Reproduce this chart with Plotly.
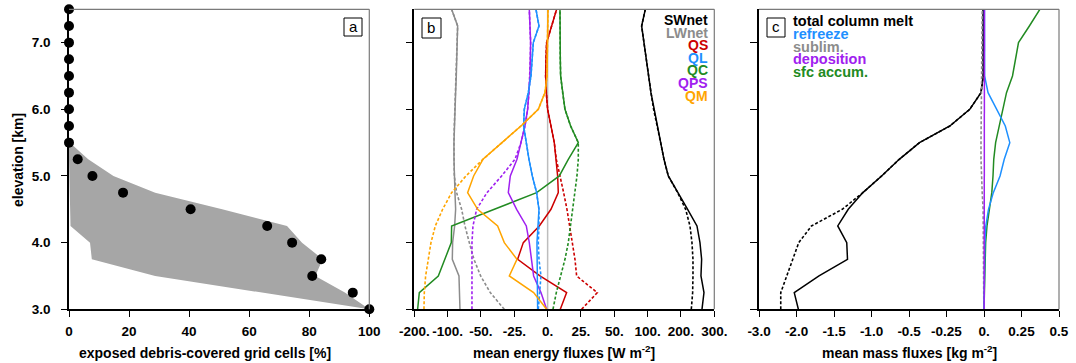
import numpy as np
import plotly.graph_objects as go

W, H = 1076, 363

# ---------------- data ----------------
elev = [3.0, 3.25, 3.5, 3.75, 4.0, 4.25, 4.5, 4.75, 5.0, 5.25, 5.5,
        5.75, 6.0, 6.25, 6.5, 6.75, 7.0, 7.25, 7.5]

# panel a
debris_pct = [100, 94.5, 81, 84, 74.3, 66, 40.5, 18, 7.8, 2.9, 0,
              0, 0, 0, 0, 0, 0, 0, 0]
band_elev = [3.0, 3.25, 3.5, 3.75, 4.0, 4.25, 4.5, 4.75, 5.0, 5.25, 5.5]
band_max = [100, 92, 82, 84.5, 77.6, 72.6, 51, 28.7, 14.8, 6.4, 0.3]
band_min = [100, 64, 28.7, 7.6, 7.0, 0.5, 0.3, 0.2, 0.1, 0, 0]
a_xticks = [0, 20, 40, 60, 80, 100]
a_yticks = [3.0, 4.0, 5.0, 6.0, 7.0]
a_ytext = ["3.0", "4.0", "5.0", "6.0", "7.0"]

# panel b (W m-2)
eb_ticks = [-200, -100, -50, -25, 0, 25, 50, 100, 200, 300]
eb_text = ["-200.", "-100.", "-50.", "-25.", "0.", "25.", "50.", "100.", "200.", "300."]
sw_solid = [263, 269, 260, 262, 257, 248, 220, 190, 162, 149, 139, 128, 118, 110, 103, 98, 95, 91, 96.5]
sw_dash = [231, 235, 236, 236, 233, 227, 214, 190, 162, 149, 139, 128, 118, 110, 103, 98, 95, 91, 96.5]
lw_solid = [-81.5, -82.5, -83, -93, -92.5, -89.5, -88, -89, -90, -90.5, -90.5, -90, -89, -88, -87, -86, -85.5, -85, -94]
lw_dash = [-32.5, -43, -50.5, -60.5, -67.5, -74, -79, -86.5, -90, -90.5, -90.5, -90, -89, -88, -87, -86, -85.5, -85, -94]
qs_solid = [9.5, 14.25, -5.75, -22.5, -18.25, -6.25, 2.5, 8, 7.5, 6.5, 5, 2.5, 0, -1, -1.5, -1.25, -0.75, 3, 6.75]
qs_dash = [25.5, 37.25, 21.75, 20.5, 18.5, 16.75, 14.5, 12, 9.5, 6.5, 5, 2.5, 0, -1, -1.5, -1.25, -0.75, 3, 6.75]
ql_solid = [-7.5, -7.5, -7.75, -8, -8, -7.25, -6.5, -8.25, -11.5, -14, -16, -18, -17.5, -14.5, -12.5, -11.5, -10.75, -6.5, -8.75]
ql_dash = [-7, -5.75, -5, -6.5, -7, -6.5, -6.5, -8.25, -11.5, -14, -16, -18, -17.5, -14.5, -12.5, -11.5, -10.75, -6.5, -8.75]
qc_solid = [-190, -185, -128, -109, -94.5, -94, -40.5, -8.25, 8.75, 15.5, 23, 17.25, 13, 11.25, 9.75, 9.5, 9.25, 9.25, 9.25]
qc_dash = [4, 6.5, 9.75, 13, 15.5, 17.25, 18.75, 20.5, 22, 23, 23, 17.25, 13, 11.25, 9.75, 9.5, 9.25, 9.25, 9.25]
qps_solid = [-0.75, -5, -10.5, -12, -13.75, -16, -23.25, -29.5, -28, -23, -20, -17, -15, -14, -13.25, -13, -12.75, -13.25, -13.75]
qps_dash = [-63.5, -63.5, -64, -64, -63.5, -62, -56.5, -45.5, -34.5, -24.5, -20, -17, -15, -14, -13.25, -13, -12.75, -13.25, -13.75]
qm_solid = [-0.75, -10.5, -28.75, -23, -32.5, -37.5, -55, -70, -61, -48.5, -34.25, -20, -7, -2, -0.5, -0.25, 0, 0, 0.25]
qm_dash = [-171, -170, -166, -159, -150, -137, -115, -94, -72.5, -48.5, -34.25, -20, -7, -2, -0.5, -0.25, 0, 0, 0.25]

# panel c (kg m-2)
mf_ticks = [-3.0, -2.0, -1.5, -1.0, -0.5, -0.25, 0.0, 0.25, 0.5]
mf_text = ["-3.0", "-2.0", "-1.5", "-1.0", "-0.5", "-0.25", "0.", "0.25", "0.5"]
melt_solid = [-1.975, -2.06, -1.70, -1.32, -1.33, -1.45, -1.31, -1.115, -0.865, -0.63, -0.43, -0.2275, -0.095, -0.02, -0.005, -0.005, -0.005, -0.005, -0.005]
melt_dash = [-2.42, -2.42, -2.26, -2.10, -1.97, -1.80, -1.39, -1.115, -0.865, -0.63, -0.43, -0.2275, -0.095, -0.02, -0.005, -0.005, -0.005, -0.005, -0.005]
refreeze = [0, 0.001, 0.002, 0.003, 0.006, 0.012, 0.03, 0.062, 0.107, 0.135, 0.172, 0.142, 0.082, 0.027, 0.004, 0.003, 0.003, 0.003, 0.003]
sublim = [-0.001, -0.001, -0.002, -0.002, -0.003, -0.004, -0.006, -0.012, -0.018, -0.02, -0.02, -0.019, -0.018, -0.017, -0.016, -0.015, -0.014, -0.013, -0.012]
deposition = [0.001, 0.001, 0.001, 0.001, 0.001, 0.002, 0.002, 0.002, 0.003, 0.003, 0.003, 0.003, 0.003, 0.003, 0.003, 0.003, 0.003, 0.003, 0.003]
sfc_accum = [0.0, 0.003, 0.005, 0.0075, 0.011, 0.02, 0.035, 0.052, 0.06, 0.065, 0.0775, 0.1025, 0.125, 0.15, 0.19, 0.2125, 0.23, 0.3025, 0.3725]

# ---------------- styles ----------------
FONT = "Liberation Sans, Arial, Helvetica, sans-serif"
BLACK, GREY = "#000000", "#8c8c8c"
RED, BLUE, GREEN, PURPLE, ORANGE = "#cc0000", "#1e90ff", "#228b22", "#a020f0", "#ffa500"
DASH = "3px,2px"


def eb_pos(v):
    return np.interp(v, eb_ticks, np.arange(len(eb_ticks)))


def mf_pos(v):
    return np.interp(v, mf_ticks, np.arange(len(mf_ticks)))


def px(x):
    return x / W


def py(y):
    return 1 - y / H


# plot-area pixel geometry
TOP, BOT = 9.3, 309.3
A_L, A_R = 69.0, 369.3
B_L, B_R = 414.3, 714.3
C_L, C_R = 759.0, 1059.0

fig = go.Figure()

# ---- panel a ----
fig.add_trace(go.Scatter(
    x=list(band_max) + list(band_min[::-1]),
    y=list(band_elev) + list(band_elev[::-1]),
    fill="toself", fillcolor="#a6a6a6", line=dict(width=0),
    mode="lines", hoverinfo="skip", xaxis="x", yaxis="y"))
fig.add_trace(go.Scatter(
    x=debris_pct, y=elev, mode="markers",
    marker=dict(color="black", size=10), cliponaxis=False,
    xaxis="x", yaxis="y"))

# ---- panel b ----
b_series = [
    (lw_solid, lw_dash, GREY),
    (sw_solid, sw_dash, BLACK),
    (qs_solid, qs_dash, RED),
    (qc_solid, qc_dash, GREEN),
    (qps_solid, qps_dash, PURPLE),
    (ql_solid, ql_dash, BLUE),
    (qm_solid, qm_dash, ORANGE),
]
for solid, dash, col in b_series:
    fig.add_trace(go.Scatter(x=eb_pos(dash), y=elev, mode="lines",
                             line=dict(color=col, width=1.6, dash=DASH),
                             xaxis="x2", yaxis="y2"))
    fig.add_trace(go.Scatter(x=eb_pos(solid), y=elev, mode="lines",
                             line=dict(color=col, width=1.5),
                             xaxis="x2", yaxis="y2"))

# ---- panel c ----
fig.add_trace(go.Scatter(x=mf_pos(melt_dash), y=elev, mode="lines",
                         line=dict(color=BLACK, width=1.6, dash=DASH), xaxis="x3", yaxis="y3"))
fig.add_trace(go.Scatter(x=mf_pos(melt_solid), y=elev, mode="lines",
                         line=dict(color=BLACK, width=1.5), xaxis="x3", yaxis="y3"))
fig.add_trace(go.Scatter(x=mf_pos(sublim), y=elev, mode="lines",
                         line=dict(color=GREY, width=1.6, dash=DASH), xaxis="x3", yaxis="y3"))
fig.add_trace(go.Scatter(x=mf_pos(sfc_accum), y=elev, mode="lines",
                         line=dict(color=GREEN, width=1.5), xaxis="x3", yaxis="y3"))
fig.add_trace(go.Scatter(x=mf_pos(refreeze), y=elev, mode="lines",
                         line=dict(color=BLUE, width=1.5), xaxis="x3", yaxis="y3"))
fig.add_trace(go.Scatter(x=mf_pos(deposition), y=elev, mode="lines",
                         line=dict(color=PURPLE, width=1.5), xaxis="x3", yaxis="y3"))

tickfont = dict(family=FONT, size=13.5, color="black", weight="bold")
common_x = dict(showgrid=False, zeroline=False, showline=True, linecolor="black",
                linewidth=1.5, ticks="outside", ticklen=6, tickwidth=1.2,
                tickcolor="black", tickfont=tickfont, ticklabelstandoff=3,
                automargin=False)
common_y = dict(showgrid=False, zeroline=False, showline=True, linecolor="black",
                linewidth=1.5, ticks="outside", ticklen=7, tickwidth=1.2,
                tickcolor="black", range=[3.0, 7.5], automargin=False,
                domain=[py(BOT), py(TOP)])

fig.update_layout(
    width=W, height=H, margin=dict(l=0, r=0, t=0, b=0, pad=0, autoexpand=False),
    paper_bgcolor="white", plot_bgcolor="white", showlegend=False,
    xaxis=dict(common_x, domain=[px(A_L), px(A_R)], range=[0, 100],
               tickvals=a_xticks, anchor="y"),
    yaxis=dict(common_y, tickvals=a_yticks, ticktext=a_ytext, tickfont=tickfont,
               ticklen=6, ticklabelstandoff=8, anchor="x"),
    xaxis2=dict(common_x, domain=[px(B_L), px(B_R)], range=[0, len(eb_ticks) - 1],
                tickvals=list(range(len(eb_ticks))), ticktext=eb_text, anchor="y2"),
    yaxis2=dict(common_y, tickvals=[3, 4, 5, 6, 7], showticklabels=False, anchor="x2"),
    xaxis3=dict(common_x, domain=[px(C_L), px(C_R)], range=[0, len(mf_ticks) - 1],
                tickvals=list(range(len(mf_ticks))), ticktext=mf_text, anchor="y3"),
    yaxis3=dict(common_y, tickvals=[3, 4, 5, 6, 7], showticklabels=False, anchor="x3"),
)

shapes = []
# zero line in panel b
shapes.append(dict(type="line", xref="x2", yref="y2", x0=eb_pos(0), x1=eb_pos(0),
                   y0=3.0, y1=7.5, line=dict(color="#bdbdbd", width=1.5), layer="below"))
# grey top/right frames
for L, R in [(A_L, A_R), (B_L, B_R), (C_L, C_R)]:
    shapes.append(dict(type="line", xref="paper", yref="paper", x0=px(L), x1=px(R),
                       y0=py(TOP), y1=py(TOP), line=dict(color="#7a7a7a", width=1.2)))
    shapes.append(dict(type="line", xref="paper", yref="paper", x0=px(R), x1=px(R),
                       y0=py(TOP), y1=py(BOT), line=dict(color="#7a7a7a", width=1.2)))
# panel-label boxes
boxes = [("a", 344, 18, 362, 36), ("b", 422, 18, 441, 38), ("c", 767, 18, 785, 37)]
annotations = []
for lab, x0, y0, x1, y1 in boxes:
    shapes.append(dict(type="rect", xref="paper", yref="paper", x0=px(x0), x1=px(x1),
                       y0=py(y1), y1=py(y0), line=dict(color="black", width=1),
                       fillcolor="white"))
    annotations.append(dict(text=lab, xref="paper", yref="paper", x=px((x0 + x1) / 2),
                            y=py((y0 + y1) / 2 - 0.5), xanchor="center", yanchor="middle",
                            showarrow=False,
                            font=dict(family=FONT, size=15, color="black")))

# axis titles
tfont = dict(family=FONT, size=14, color="black", weight="bold")
annotations.append(dict(text="exposed debris-covered grid cells [%]", xref="paper", yref="paper",
                        x=px(205), y=py(353), xanchor="center", yanchor="middle",
                        showarrow=False, font=tfont))
annotations.append(dict(text="mean energy fluxes [W m<sup>-2</sup>]", xref="paper", yref="paper",
                        x=px(564), y=py(352), xanchor="center", yanchor="middle",
                        showarrow=False, font=tfont))
annotations.append(dict(text="mean mass fluxes [kg m<sup>-2</sup>]", xref="paper", yref="paper",
                        x=px(909), y=py(352), xanchor="center", yanchor="middle",
                        showarrow=False, font=tfont))
annotations.append(dict(text="elevation [km]", xref="paper", yref="paper",
                        x=px(18), y=py(160), xanchor="center", yanchor="middle",
                        textangle=-90, showarrow=False, font=tfont))

# panel b legend text
b_leg = [("SWnet", BLACK), ("LWnet", GREY), ("QS", RED), ("QL", BLUE),
         ("QC", GREEN), ("QPS", PURPLE), ("QM", ORANGE)]
for i, (t, col) in enumerate(b_leg):
    annotations.append(dict(text=t, xref="paper", yref="paper", x=px(710),
                            y=py(20 + i * 12.6), xanchor="right", yanchor="middle",
                            showarrow=False,
                            font=dict(family=FONT, size=14, color=col, weight="bold")))
# panel c legend text
c_leg = [("total column melt", BLACK), ("refreeze", BLUE), ("sublim.", GREY),
         ("deposition", PURPLE), ("sfc accum.", GREEN)]
for i, (t, col) in enumerate(c_leg):
    annotations.append(dict(text=t, xref="paper", yref="paper", x=px(791),
                            y=py(21 + i * 12.8), xanchor="left", yanchor="middle",
                            showarrow=False,
                            font=dict(family=FONT, size=14.5, color=col, weight="bold")))

fig.update_layout(shapes=shapes, annotations=annotations)
fig.write_html("out.html")
